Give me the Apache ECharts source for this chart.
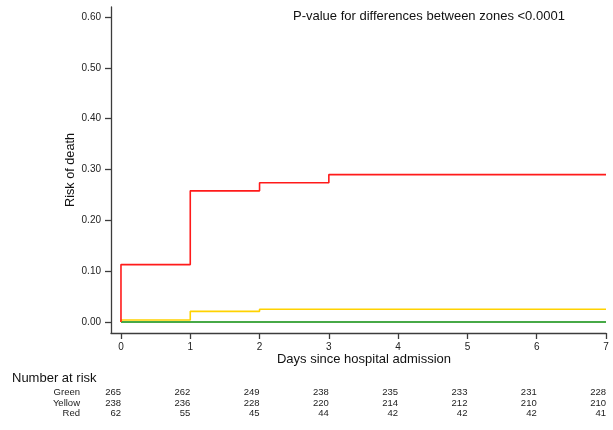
<!DOCTYPE html>
<html>
<head>
<meta charset="utf-8">
<script src="https://cdn.jsdelivr.net/npm/echarts@6/dist/echarts.min.js"></script>
<style>
  html, body { margin: 0; padding: 0; background: #fff; }
  #chart { width: 613px; height: 430px; }
</style>
</head>
<body>
<div id="chart"></div>
<script>
// Kaplan-Meier style cumulative risk of death by triage zone
const days = [0, 1, 2, 3, 4, 5, 6, 7];
const yTicks = [0, 0.1, 0.2, 0.3, 0.4, 0.5, 0.6];

// step points: [day, cumulative risk]
const greenRisk = [[0, 0], [7, 0]];
const yellowRisk = [[0, 0], [0, 0.004], [1, 0.021], [2, 0.025], [7, 0.025]];
const redRisk = [[0, 0], [0, 0.113], [1, 0.258], [2, 0.274], [3, 0.290], [7, 0.290]];

// number at risk table
const riskGroups = ['Green', 'Yellow', 'Red'];
const atRiskGreen = [265, 262, 249, 238, 235, 233, 231, 228];
const atRiskYellow = [238, 236, 228, 220, 214, 212, 210, 210];
const atRiskRed = [62, 55, 45, 44, 42, 42, 42, 41];

const pText = 'P-value for differences between zones <0.0001';
const xTitle = 'Days since hospital admission';
const yTitle = 'Risk of death';

const FONT = '"Liberation Sans", Arial, Helvetica, sans-serif';
const AXIS_COLOR = '#3c3c3c';

const chart = echarts.init(document.getElementById('chart'), null, { renderer: 'canvas' });

function stepSeries(name, data, color, width) {
  return {
    name: name,
    type: 'line',
    step: 'end',
    data: data,
    showSymbol: false,
    symbol: 'none',
    animation: false,
    lineStyle: { color: color, width: width },
    itemStyle: { color: color }
  };
}

chart.setOption({
  backgroundColor: '#ffffff',
  animation: false,
  grid: { left: 111, top: 7, width: 495, bottom: 97, containLabel: false },
  xAxis: {
    type: 'value',
    min: -0.144,
    max: 7,
    axisLine: { show: true, onZero: false, lineStyle: { color: AXIS_COLOR, width: 1.3 } },
    axisTick: { show: true, length: 6, lineStyle: { color: AXIS_COLOR, width: 1.3 }, customValues: days },
    axisLabel: {
      customValues: days, margin: 9,
      color: '#222', fontFamily: FONT, fontSize: 10,
      formatter: v => String(v)
    },
    splitLine: { show: false }
  },
  yAxis: {
    type: 'value',
    min: -0.0216,
    max: 0.6197,
    axisLine: { show: true, onZero: false, lineStyle: { color: AXIS_COLOR, width: 1.3 } },
    axisTick: { show: true, length: 6, lineStyle: { color: AXIS_COLOR, width: 1.3 }, customValues: yTicks },
    axisLabel: {
      customValues: yTicks, margin: 10,
      color: '#222', fontFamily: FONT, fontSize: 10,
      formatter: v => v.toFixed(2)
    },
    splitLine: { show: false }
  },
  series: [
    stepSeries('Green', greenRisk, '#0a8c0a', 1.6),
    stepSeries('Yellow', yellowRisk, '#ffd200', 1.6),
    stepSeries('Red', redRisk, '#ff1a1a', 1.6)
  ]
});

// Text annotations and the number-at-risk table, positioned from the axis scale
const px = d => chart.convertToPixel({ xAxisIndex: 0 }, d);

const graphics = [
  { type: 'text', left: 293, top: 10, style: { text: pText, font: '13px ' + FONT, fill: '#111' } },
  { type: 'text', x: 364, y: 359, style: { text: xTitle, font: '13px ' + FONT, fill: '#111', align: 'center', verticalAlign: 'middle' } },
  { type: 'text', x: 70, y: 170, rotation: Math.PI / 2, style: { text: yTitle, font: '12.7px ' + FONT, fill: '#111', align: 'center', verticalAlign: 'middle' } },
  { type: 'text', x: 12, y: 378, style: { text: 'Number at risk', font: '13px ' + FONT, fill: '#111', verticalAlign: 'middle' } }
];

const tableRows = [atRiskGreen, atRiskYellow, atRiskRed];
const rowY = [392.5, 403, 413.5];
tableRows.forEach((row, r) => {
  graphics.push({ type: 'text', x: 80, y: rowY[r], style: { text: riskGroups[r], font: '9.5px ' + FONT, fill: '#222', align: 'right', verticalAlign: 'middle' } });
  row.forEach((n, i) => {
    graphics.push({ type: 'text', x: px(days[i]), y: rowY[r], style: { text: String(n), font: '9.5px ' + FONT, fill: '#222', align: 'right', verticalAlign: 'middle' } });
  });
});

chart.setOption({ graphic: graphics });
</script>
</body>
</html>
